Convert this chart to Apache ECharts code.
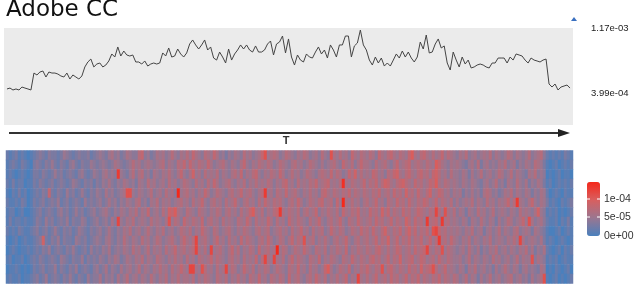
<!DOCTYPE html>
<html><head><meta charset="utf-8">
<script src="https://cdn.jsdelivr.net/npm/echarts@6/dist/echarts.min.js"></script>
<style>html,body{margin:0;padding:0;background:#fff}#c{width:638px;height:290px;filter:blur(0.45px)}</style>
</head><body><div id="c"></div>
<script>
const titleText = 'Adobe CC';
const axisName = 'T';
const lineTickValues = [39.9, 117];
const lineTickLabels = ['3.99e-04', '1.17e-03'];
const colorTicks = ['1e-04', '5e-05', '0e+00'];
// line values, in units of 1e-5
const lineValues = [
44.7,45.8,43.5,44.7,43.5,47,45.8,44.7,43.5,63.6,61.3,64.8,66,58.9,64.8,63.6,63.6,62.4,60.1,58.9,
63.6,56.5,61.3,58.9,56.5,60.1,70.8,76.7,80.2,70.8,74.3,75.5,70.8,73.1,77.9,86.2,82.6,94.5,83.8,89.7,
85,83.8,85,76.7,76.7,74.3,77.9,71.9,74.3,75.5,74.3,75.5,87.4,83.8,93.3,82.6,83.8,92.1,86.2,82.6,
87.4,98,102.8,96.9,92.1,96.9,102.8,90.9,94.5,81.4,79,88.5,82.6,75.5,92.1,79,86.2,90.9,96.9,92.1,
96.9,90.9,88.5,95.7,88.5,88.5,90.9,98,101.6,85,98,100.4,107.5,87.4,104,82.6,73.1,85,79,76.7,
86.2,82.6,81.4,88.5,94.5,86.2,90.9,81.4,96.9,90.9,82.6,96.9,96.9,107.5,107.5,82.6,95.7,99.2,114.6,96.9,
90.9,79,73.1,82.6,75.5,81.4,71.9,75.5,71.9,79,86.2,81.4,89.7,82.6,88.5,81.4,76.7,82.6,100.4,92.1,
108.7,87.4,88.5,98,104,93.3,95.7,75.5,67.2,88.5,79,70.8,82.6,74.3,79,69.6,70.8,73.1,74.3,73.1,
70.8,69.6,75.5,75.5,81.4,81.4,81.4,75.5,82.6,79,86.2,85,83.8,79,75.5,81.4,79,77.9,76.7,79,
80.2,50.6,47,50.6,43.5,47,48.2,49.4,45.8
];
const heatRow01 = [
2,1,2,3,1,2,1,0,1,2,
3,4,3,2,4,3,3,2,3,5,4,3,2,3,4,3,3,4,2,3,
4,5,4,3,5,6,4,5,3,4,6,5,4,4,7,8,4,5,3,4,6,5,6,4,5,7,5,4,6,5,
7,5,8,6,5,4,7,6,5,8,6,4,5,3,5,4,6,5,4,7,5,6,4,5,6,8,11,5,6,7,
6,4,5,7,6,5,4,6,5,7,6,4,5,6,4,7,5,4,11,6,5,7,5,6,4,8,6,5,7,6,
5,7,6,4,8,6,5,7,8,6,5,7,6,5,8,10,6,5,7,8,6,5,7,5,6,8,5,7,6,5,
4,6,5,7,4,5,6,4,5,6,5,7,4,6,5,4,5,7,6,4,6,5,4,5,7,4,5,6,7,4,
2,1,2,1,2,1,3,2,1
];
const heatRow02 = [
1,2,3,2,1,3,2,1,0,3,
4,3,2,4,3,5,3,2,4,3,2,4,5,3,2,4,3,3,5,4,
3,4,5,4,3,4,6,5,4,3,4,5,7,5,6,4,5,6,5,4,5,6,7,4,6,5,4,7,6,8,
5,8,6,5,7,6,5,8,6,4,5,6,7,5,4,6,5,4,6,8,5,4,6,5,7,6,5,7,6,4,
5,7,6,5,4,6,7,5,6,4,5,7,6,5,4,6,4,5,6,7,5,4,8,6,5,7,4,6,8,6,
6,5,4,7,5,6,7,5,4,6,8,5,6,7,8,5,6,7,6,5,7,6,5,10,8,6,5,4,6,5,
6,5,4,3,5,6,4,7,3,5,6,4,5,4,6,5,7,4,5,6,3,5,4,6,5,4,7,6,5,3,
1,0,1,2,0,1,2,1,2
];
const heatRow03 = [
1,2,1,0,1,2,1,0,1,3,
3,2,4,3,2,3,5,3,4,2,3,4,3,2,4,5,3,2,3,5,
4,3,5,6,4,5,4,13,5,4,3,5,7,4,6,7,4,5,3,6,5,4,6,5,7,5,4,6,8,5,
4,6,9,5,6,4,7,5,6,5,7,4,6,5,4,6,7,5,8,4,6,5,7,8,5,4,6,5,7,6,
5,8,6,4,5,7,5,6,4,5,7,6,5,4,6,7,6,5,8,5,7,6,4,5,8,6,9,5,7,5,
6,5,8,7,5,6,4,7,6,8,9,6,5,7,8,6,5,7,8,6,7,5,8,9,7,5,6,4,7,5,
5,4,6,5,3,6,4,5,7,4,5,6,4,5,7,6,4,5,7,4,6,5,4,3,6,5,7,4,5,4,
0,1,0,1,2,0,1,1,0
];
const heatRow04 = [
2,1,3,1,2,2,0,1,1,3,
2,4,3,2,3,4,2,3,4,3,2,3,5,4,3,2,4,3,4,2,
4,3,5,4,6,4,3,5,4,6,5,4,5,3,6,5,4,7,5,6,4,5,6,4,7,5,6,4,5,7,
6,5,4,7,5,6,4,7,5,8,6,4,5,6,7,5,4,6,5,7,4,6,5,7,5,6,5,7,6,4,
6,5,7,8,5,6,4,7,5,6,5,7,6,8,5,6,7,8,5,6,5,7,14,6,5,7,6,5,6,8,
5,7,6,8,5,7,9,8,6,5,7,8,9,7,6,5,8,6,7,5,6,8,7,10,6,5,7,6,5,6,
5,4,6,5,4,6,5,4,3,5,6,4,5,7,4,5,3,6,5,4,7,5,4,6,3,5,4,6,5,3,
1,2,0,1,2,1,2,1,2
];
const heatRow05 = [
1,0,2,1,3,1,2,0,1,2,
3,2,4,3,8,3,2,4,3,2,5,3,4,2,3,5,3,2,4,3,
5,4,3,6,4,5,3,4,5,6,11,11,5,4,6,5,4,5,7,4,5,6,4,7,5,6,4,15,5,6,
7,5,6,4,6,5,8,6,4,5,7,6,5,4,6,7,5,6,8,5,6,7,5,4,6,7,13,5,6,4,
7,6,5,8,5,6,7,5,4,6,5,7,5,6,4,7,8,6,5,7,6,5,7,6,8,5,7,6,5,7,
6,5,7,6,8,5,6,7,5,8,6,7,5,9,6,7,5,8,6,5,7,9,5,6,8,7,5,6,4,6,
5,6,3,5,4,6,4,5,3,6,7,6,4,5,3,4,6,5,7,4,6,5,4,6,5,3,5,4,6,5,
2,0,1,2,1,0,2,1,1
];
const heatRow06 = [
2,1,1,2,1,3,2,0,1,3,
2,3,4,2,3,4,3,5,2,3,4,2,3,4,3,2,5,3,4,3,
4,5,3,4,6,4,5,3,5,4,6,5,4,6,7,4,5,3,6,5,7,4,6,5,6,4,5,6,7,5,
6,4,7,5,6,8,5,4,6,7,5,6,4,7,5,6,8,5,4,6,7,5,6,4,7,5,8,6,5,7,
6,7,5,4,6,7,5,8,6,4,5,7,6,5,7,8,5,6,7,4,8,5,15,6,5,7,5,6,4,6,
7,5,6,8,5,6,4,7,6,5,8,6,7,5,8,6,5,7,6,8,7,5,6,8,5,7,6,5,7,4,
6,4,5,6,5,7,4,6,5,4,7,5,6,4,6,5,6,8,5,7,13,6,5,4,6,8,5,4,6,5,
3,1,2,1,0,2,1,2,3
];
const heatRow07 = [
1,2,2,0,1,2,0,0,1,2,
3,4,2,3,4,3,2,4,5,3,4,2,3,5,3,4,2,3,4,5,
3,4,5,6,4,3,5,4,6,5,4,6,5,7,4,6,5,8,4,5,6,4,7,5,9,8,10,6,5,4,
7,6,5,4,7,6,5,4,6,5,7,6,4,6,7,5,6,4,7,5,6,8,10,6,5,7,4,6,5,7,
8,13,6,5,7,6,5,7,4,6,7,5,6,8,4,6,5,7,6,5,7,4,8,6,5,7,6,8,5,6,
5,8,6,7,5,9,6,8,5,7,6,5,8,6,7,5,6,8,7,6,5,7,6,12,7,5,11,6,5,7,
4,6,5,3,6,5,4,7,5,6,4,5,7,4,5,6,5,4,6,5,4,7,5,6,5,4,6,9,5,4,
1,2,1,2,0,1,0,1,2
];
const heatRow08 = [
1,3,1,2,2,1,2,1,1,2,
4,3,2,5,3,4,2,3,4,3,5,2,4,3,3,5,4,2,3,4,
5,3,4,5,3,6,4,12,5,4,6,5,7,4,5,6,5,4,7,5,6,5,4,6,11,5,7,6,4,8,
6,5,7,6,5,8,4,6,7,5,6,4,7,5,6,5,4,7,6,5,8,6,4,7,5,6,5,8,6,4,
7,5,6,4,8,6,5,7,6,5,4,7,5,6,8,5,4,6,7,5,6,8,5,4,7,6,5,8,6,5,
6,7,5,8,6,7,5,6,8,5,7,6,5,9,7,5,8,6,7,5,13,6,7,8,5,13,6,7,5,6,
5,4,6,5,3,6,5,4,7,5,4,6,5,3,6,4,5,7,6,4,5,6,8,5,11,6,4,5,6,4,
2,1,1,2,0,2,1,3,1
];
const heatRow09 = [
2,1,2,1,3,2,1,1,2,3,
4,2,3,4,2,3,5,3,2,4,3,4,2,3,5,4,3,2,4,3,
4,5,3,4,6,4,3,5,4,6,5,7,4,5,6,4,5,7,5,4,6,5,7,4,5,6,4,5,7,6,
5,7,4,6,5,8,6,5,4,7,6,4,5,6,7,5,4,6,5,7,6,5,4,6,7,5,6,7,4,5,
6,7,5,6,4,7,5,6,8,5,6,4,7,5,6,7,4,5,8,6,5,7,6,4,5,7,6,5,8,6,
7,5,8,6,5,7,9,6,5,7,6,8,5,7,9,6,8,5,7,6,8,5,11,12,8,6,7,5,6,5,
6,5,4,6,5,7,4,5,6,3,5,6,4,5,7,4,6,5,4,6,7,4,5,6,5,3,6,5,4,3,
1,0,0,1,2,0,1,2,1
];
const heatRow10 = [
1,0,1,2,0,1,2,1,1,2,
3,4,9,3,2,4,3,5,2,4,3,3,2,5,4,3,4,2,3,4,
5,4,3,5,6,4,3,5,4,7,5,4,6,5,4,7,5,6,4,5,7,6,4,5,6,7,5,4,6,8,
6,5,7,12,5,6,7,5,4,6,8,5,6,4,7,5,6,4,8,5,7,6,5,4,6,7,5,8,6,4,
5,7,6,4,6,8,5,7,6,11,5,6,7,4,6,5,7,5,4,6,7,5,6,8,5,4,6,7,5,6,
7,5,6,8,5,7,6,9,5,6,8,5,7,6,8,5,7,6,8,5,6,8,5,7,13,6,7,5,8,6,
5,4,6,5,7,4,6,5,4,6,5,7,4,5,6,5,4,6,5,7,5,12,6,4,5,6,5,4,6,3,
1,2,1,0,1,2,1,0,1
];
const heatRow11 = [
0,1,2,1,0,1,1,2,1,2,
3,2,4,3,5,2,3,4,3,2,4,3,5,3,2,3,4,2,5,3,
4,3,5,4,6,3,4,5,4,6,5,4,7,5,6,4,5,7,4,6,5,6,4,7,5,6,8,5,6,7,
5,6,7,12,6,5,7,4,12,5,6,7,5,4,6,8,5,7,4,6,5,7,6,4,8,5,6,7,5,6,
15,5,7,6,4,5,7,6,5,8,6,5,4,7,6,5,7,4,6,5,7,6,5,8,4,6,5,7,6,5,
7,6,5,7,8,6,5,7,5,6,8,7,5,6,7,5,8,6,7,8,12,6,5,7,6,11,5,7,6,5,
4,5,6,4,7,5,4,6,3,5,4,6,5,7,4,5,6,4,6,5,4,6,5,7,4,6,3,5,4,6,
2,1,0,1,2,0,2,1,2
];
const heatRow12 = [
1,2,0,1,1,2,0,1,2,3,
2,4,3,2,3,4,3,2,5,4,3,2,4,3,3,5,2,4,3,4,
3,5,4,3,5,4,6,5,3,4,6,5,4,6,5,7,4,6,5,4,7,6,5,4,6,5,7,5,6,4,
7,5,6,4,7,6,5,6,8,5,7,6,5,4,6,7,5,6,4,7,5,6,5,8,4,7,12,6,5,12,
6,5,7,4,6,8,5,7,6,5,4,7,6,5,8,4,6,5,7,6,5,4,7,6,5,8,6,5,7,6,
5,7,8,6,7,5,6,8,5,7,6,9,5,6,7,8,5,6,8,7,5,6,7,5,8,6,5,7,6,5,
5,6,4,5,7,4,6,5,4,6,5,4,7,5,6,4,5,6,4,5,7,4,6,5,5,11,4,6,5,4,
1,2,1,2,0,1,2,1,1
];
const heatRow13 = [
0,1,1,2,1,0,1,0,1,3,
2,3,4,2,3,3,5,2,4,3,2,4,3,5,2,3,4,3,2,4,
5,3,4,6,3,5,4,3,6,4,5,6,4,5,7,4,6,5,4,6,5,7,5,6,4,7,5,6,8,6,
5,12,12,6,5,11,7,5,6,4,7,5,6,12,5,7,6,4,5,8,6,5,7,4,6,5,7,6,4,5,
7,6,5,4,7,6,5,8,5,6,4,7,5,6,4,5,8,10,6,4,5,7,6,5,8,4,6,5,7,6,
8,6,5,7,6,11,5,7,8,6,5,7,6,5,8,6,7,5,9,6,7,8,11,7,5,6,8,5,6,5,
4,6,5,3,6,5,7,4,5,6,4,5,3,6,4,5,7,5,4,6,5,3,5,6,4,5,4,3,6,5,
0,1,0,2,1,0,1,2,0
];
const heatRow14 = [
1,2,1,1,2,0,1,1,2,3,
4,2,3,5,2,3,4,3,2,4,3,5,3,2,4,3,2,5,3,4,
4,6,3,5,4,5,3,6,4,5,7,4,5,6,4,6,5,4,7,5,4,6,5,7,4,6,5,7,5,6,
6,5,7,4,6,5,7,6,5,4,7,6,5,7,4,6,5,7,5,6,4,7,6,5,8,5,6,4,7,6,
5,7,6,4,8,5,6,7,5,4,6,7,5,8,6,5,7,4,6,5,7,5,6,8,4,6,5,12,6,5,
7,5,6,8,5,6,7,5,8,6,7,5,6,8,5,7,6,8,5,7,6,5,7,6,8,5,7,6,5,7,
6,4,5,7,4,6,5,3,6,4,5,7,4,5,6,4,5,6,7,4,5,6,4,5,3,6,4,5,6,11,
1,0,1,2,0,1,0,1,2
];
const heatRows = [heatRow01,heatRow02,heatRow03,heatRow04,heatRow05,heatRow06,heatRow07,heatRow08,heatRow09,heatRow10,heatRow11,heatRow12,heatRow13,heatRow14];

const heatCells = [];
heatRows.forEach((r, y) => r.forEach((v, x) => heatCells.push([x, y, v])));
const columnIds = heatRows[0].map((_, i) => i);
const rowIds = heatRows.map((_, i) => i);

const chart = echarts.init(document.getElementById('c'), null, {renderer: 'canvas'});
const colorLabelBase = {fontFamily: 'Liberation Sans', fontSize: 10.5, fill: '#333', textVerticalAlign: 'middle'};
chart.setOption({
  animation: false,
  backgroundColor: '#fff',
  title: {text: titleText, left: 6, top: -1, padding: 0,
    textStyle: {fontFamily: 'DejaVu Sans', fontWeight: 'normal', fontSize: 23, color: '#111'}},
  grid: [
    {left: 4, top: 28, width: 569, height: 97, show: true, backgroundColor: '#ebebeb', borderWidth: 0},
    {left: 6, top: 150.5, width: 567, height: 133, show: false}
  ],
  xAxis: [
    {type: 'value', gridIndex: 0, min: -1, max: 189, show: false},
    {type: 'category', gridIndex: 1, data: columnIds, show: false}
  ],
  yAxis: [
    {type: 'value', gridIndex: 0, min: 2, max: 117, position: 'right',
      axisLine: {show: false}, axisTick: {show: false}, splitLine: {show: false},
      axisLabel: {show: true, customValues: lineTickValues, margin: 18, hideOverlap: false,
        fontFamily: 'Liberation Sans', fontSize: 9.5, color: '#222',
        formatter: v => lineTickLabels[lineTickValues.indexOf(v)] || ''}},
    {type: 'category', gridIndex: 1, data: rowIds, inverse: true, show: false}
  ],
  visualMap: {
    type: 'continuous', seriesIndex: 1, min: 0, max: 14.7, left: 587, top: 182,
    itemWidth: 13, itemHeight: 54, padding: 0, calculable: false, text: null, showLabel: false,
    inRange: {color: ['#4a80bd', '#9a7690', '#d85f5f', '#f5281a']}
  },
  series: [
    {type: 'line', xAxisIndex: 0, yAxisIndex: 0, silent: true, symbol: 'none',
      data: lineValues.map((v, i) => [i, v]), lineStyle: {color: '#444', width: 1}},
    {type: 'heatmap', xAxisIndex: 1, yAxisIndex: 1, silent: true, progressive: 0,
      data: heatCells, itemStyle: {borderWidth: 0}, emphasis: {disabled: true}}
  ],
  graphic: [
    {type: 'line', shape: {x1: 9, y1: 133, x2: 560, y2: 133}, style: {stroke: '#333', lineWidth: 2}},
    {type: 'polygon', shape: {points: [[558, 129], [570, 133], [558, 137]]}, style: {fill: '#222'}},
    {type: 'text', x: 286, y: 141, style: {text: axisName, fontFamily: 'Liberation Sans', fontWeight: 'bold', fontSize: 11, fill: '#333', align: 'center', verticalAlign: 'middle'}},
    {type: 'polygon', shape: {points: [[571, 21], [574, 17], [577, 21]]}, style: {fill: '#3a70c0'}},
    {type: 'line', shape: {x1: 597, y1: 199, x2: 600, y2: 199}, style: {stroke: '#fff', lineWidth: 1}, z: 10},
    {type: 'line', shape: {x1: 587, y1: 199, x2: 590, y2: 199}, style: {stroke: '#fff', lineWidth: 1}, z: 10},
    {type: 'line', shape: {x1: 597, y1: 217, x2: 600, y2: 217}, style: {stroke: '#fff', lineWidth: 1}, z: 10},
    {type: 'line', shape: {x1: 587, y1: 217, x2: 590, y2: 217}, style: {stroke: '#fff', lineWidth: 1}, z: 10},
    {type: 'text', x: 604, y: 199, style: Object.assign({text: colorTicks[0]}, colorLabelBase)},
    {type: 'text', x: 604, y: 217, style: Object.assign({text: colorTicks[1]}, colorLabelBase)},
    {type: 'text', x: 604, y: 236, style: Object.assign({text: colorTicks[2]}, colorLabelBase)}
  ]
});
</script></body></html>
